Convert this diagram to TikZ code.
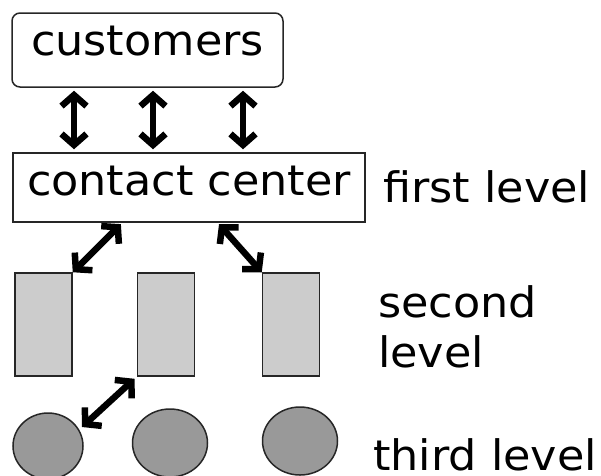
\documentclass[tikz,border=0pt]{standalone}
\usepackage{fontspec}
\setmainfont[FakeStretch=1.06]{DejaVu Sans}
\usetikzlibrary{arrows.meta, positioning, shapes.geometric}

\begin{document}
\begin{tikzpicture}[x=1pt, y=-1pt, font=\fontsize{42}{50}\selectfont]

  % Styles
  \tikzstyle{box} = [rectangle, draw=black!85, line width=1.5pt, inner sep=0pt, text height=30pt]
  \tikzstyle{agent} = [box, fill=gray!40, minimum width=57pt, minimum height=103pt]
  \tikzstyle{expert} = [ellipse, draw=black!85, line width=1.5pt, fill=gray!80, minimum width=75pt, minimum height=68pt, inner sep=0pt]
  \tikzstyle{link} = [{Straight Barb[length=11pt,width=25pt]}-{Straight Barb[length=11pt,width=25pt]}, line width=6.5pt, line join=miter, shorten <=3pt, shorten >=3pt]
  \tikzstyle{level} = [anchor=base west, align=left, inner sep=0pt]

  \useasboundingbox (0,0) rectangle (601,475);
  \clip (0,0) rectangle (601,475);

  % Nodes
  \node[box, rounded corners=8pt, minimum width=271pt, minimum height=74pt, text depth=20pt] (cust) at (147.5,50) {customers};
  \node[box, minimum width=352pt, minimum height=69pt, text depth=15pt] (cc) at (189,187.5) {contact center};
  \node[agent] (a1) at (43.5,324.5) {};
  \node[agent] (a2) at (166,324.5) {};
  \node[agent] (a3) at (291,324.5) {};
  \node[expert, minimum width=70pt, minimum height=66pt] (e1) at (48,446) {};
  \node[expert] (e2) at (170,443) {};
  \node[expert] (e3) at (300,441) {};

  % Levels
  \node[level] (l1) at (383,202) {first level};
  \node[level] (l2) at (378,367) {second\\ level};
  \node[level] (l3) at (373,470) {third level};

  % Arrows
  \coordinate (v1) at (74,0);
  \coordinate (v2) at (153,0);
  \coordinate (v3) at (243,0);
  \coordinate (d1) at (123,222);
  \coordinate (d2) at (217,222);
  \coordinate (d3) at (82,427);
  \draw[link] (cust.south -| v1) -- (cc.north -| v1);
  \draw[link] (cust.south -| v2) -- (cc.north -| v2);
  \draw[link] (cust.south -| v3) -- (cc.north -| v3);
  \draw[link, shorten >=0pt] (d1) -- (a1.north east);
  \draw[link, shorten >=0pt] (d2) -- (a3.north west);
  \draw[link, shorten >=0pt] (a2.south west) -- (d3);

\end{tikzpicture}
\end{document}
